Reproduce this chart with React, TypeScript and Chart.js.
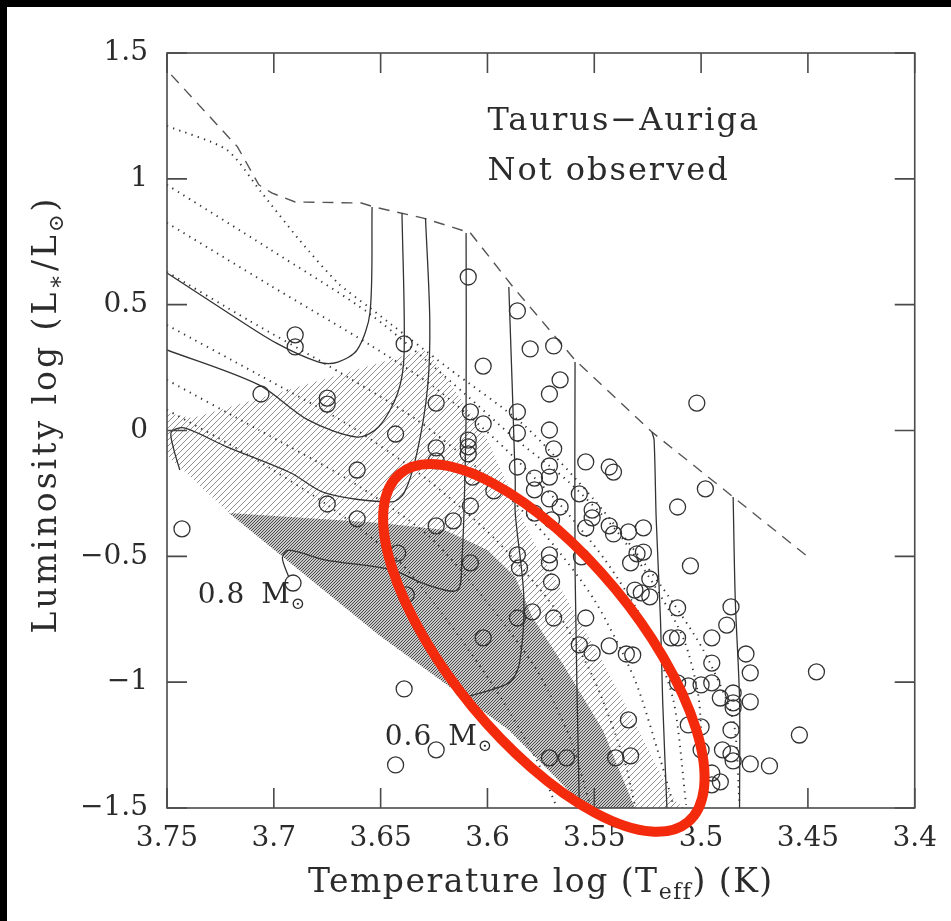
import React, { useEffect, useRef } from 'react';
import { Chart, registerables } from 'chart.js';

Chart.register(...registerables);

const FONT = '"DejaVu Serif", "Liberation Serif", serif';

type Pt = [number, number];

// ---- axis ticks ----
const xTickValues = [3.75, 3.7, 3.65, 3.6, 3.55, 3.5, 3.45, 3.4];
const xTickLabels = ['3.75', '3.7', '3.65', '3.6', '3.55', '3.5', '3.45', '3.4'];
const yTickValues = [1.5, 1, 0.5, 0, -0.5, -1, -1.5];
const yTickLabels = ['1.5', '1', '0.5', '0', '\u22120.5', '\u22121', '\u22121.5'];

// ---- birthline (dashed) ----
const birthline: Pt[] = [
  [3.748, 1.413], [3.717, 1.127], [3.707, 0.976], [3.701, 0.944], [3.69, 0.908],
  [3.659, 0.904], [3.653, 0.888], [3.63, 0.844], [3.608, 0.785], [3.588, 0.57],
  [3.559, 0.28], [3.523, -0.006], [3.485, -0.264], [3.45, -0.502],
];

// ---- evolutionary tracks (solid) ----
const track1: Pt[] = [[3.75, 0.626], [3.722, 0.471], [3.699, 0.348], [3.679, 0.272], [3.67, 0.272], [3.661, 0.32], [3.655, 0.467], [3.654, 0.888]];
const track2: Pt[] = [[3.75, 0.32], [3.707, 0.181], [3.684, 0.042], [3.661, -0.026], [3.651, 0.014], [3.642, 0.149], [3.639, 0.308], [3.64, 0.864]];
const track3: Pt[] = [[3.744, -0.157], [3.747, -0.069], [3.748, -0.006], [3.742, 0.01], [3.722, -0.065], [3.692, -0.169], [3.676, -0.248], [3.645, -0.284], [3.639, -0.248], [3.633, -0.089], [3.628, 0.173], [3.627, 0.439], [3.629, 0.844]];
const track4: Pt[] = [[3.61, 0.785], [3.61, 0.07], [3.611, -0.328], [3.612, -0.514], [3.614, -0.634], [3.628, -0.614], [3.645, -0.554], [3.676, -0.514], [3.693, -0.475], [3.696, -0.506], [3.693, -0.582]];
const track5: Pt[] = [[3.59, 0.57], [3.587, -0.196], [3.587, -0.328], [3.583, -0.661], [3.585, -0.924], [3.59, -1.003], [3.61, -1.059]];
const track6: Pt[] = [[3.559, 0.272], [3.559, -0.554], [3.557, -1.5]];
const track7: Pt[] = [[3.523, -0.006], [3.522, -0.038], [3.521, -0.355], [3.519, -0.753], [3.518, -1.071], [3.516, -1.5]];
const track8: Pt[] = [[3.485, -0.264], [3.484, -0.673], [3.482, -1.071], [3.482, -1.5]];

// ---- isochrones (dotted) ----
const iso1: Pt[] = [[3.75, 1.21], [3.722, 1.115], [3.706, 0.948], [3.688, 0.757], [3.67, 0.586], [3.655, 0.487], [3.619, 0.252], [3.583, 0.022], [3.55, -0.276], [3.519, -0.614], [3.499, -0.872], [3.485, -1.15], [3.482, -1.488]];
const iso2: Pt[] = [[3.75, 0.976], [3.702, 0.721], [3.655, 0.463], [3.611, 0.149], [3.588, -0.026], [3.562, -0.204], [3.54, -0.395], [3.522, -0.614], [3.508, -0.832], [3.501, -1.071], [3.499, -1.488]];
const iso3: Pt[] = [[3.75, 0.825], [3.702, 0.578], [3.655, 0.34], [3.625, 0.173], [3.596, -0.038], [3.568, -0.276], [3.545, -0.514], [3.526, -0.773], [3.513, -1.071], [3.507, -1.488]];
const iso4: Pt[] = [[3.75, 0.63], [3.712, 0.439], [3.675, 0.26], [3.633, 0.042], [3.601, -0.177], [3.573, -0.415], [3.55, -0.673], [3.531, -0.991], [3.519, -1.309], [3.513, -1.488]];
const iso5: Pt[] = [[3.75, 0.419], [3.707, 0.221], [3.665, 0.022], [3.628, -0.196], [3.596, -0.435], [3.568, -0.713], [3.55, -0.991], [3.536, -1.309], [3.531, -1.488]];
const iso6: Pt[] = [[3.75, 0.201], [3.707, 0.002], [3.665, -0.196], [3.628, -0.415], [3.601, -0.673], [3.577, -0.951], [3.561, -1.229], [3.552, -1.488]];
const iso7: Pt[] = [[3.75, 0.082], [3.712, -0.097], [3.675, -0.296], [3.642, -0.514], [3.619, -0.753], [3.596, -1.031], [3.577, -1.309], [3.568, -1.488]];

// ---- hatched regions ----
const lightHatchRegion: Pt[] = [
  [3.75, 0.07], [3.738, 0.05], [3.63, 0.32], [3.626, 0.292], [3.61, 0.094], [3.6, -0.038],
  [3.579, -0.435], [3.559, -0.725], [3.544, -0.951], [3.5125, -1.468], [3.508, -1.5],
  [3.554, -1.5], [3.59, -1.19], [3.651, -0.812], [3.721, -0.328], [3.75, -0.097],
];
const darkHatchRegion: Pt[] = [
  [3.721, -0.328], [3.651, -0.367], [3.62, -0.395], [3.6, -0.475], [3.587, -0.582],
  [3.579, -0.741], [3.565, -0.924], [3.546, -1.19], [3.531, -1.5], [3.554, -1.5],
  [3.59, -1.19], [3.651, -0.812],
];

// ---- observed stars (log Teff, log L) ----
const starPoints: Pt[] = [
  [3.69, 0.38], [3.69, 0.332], [3.706, 0.145], [3.743, -0.391], [3.639, 0.344], [3.675, 0.129], [3.675, 0.105],
  [3.624, 0.109], [3.643, -0.014], [3.609, 0.61], [3.586, 0.475], [3.58, 0.324], [3.569, 0.336], [3.602, 0.256],
  [3.566, 0.201], [3.571, 0.145], [3.502, 0.109], [3.586, 0.074], [3.608, 0.074], [3.602, 0.026], [3.586, -0.01],
  [3.571, 0.002], [3.609, -0.038], [3.609, -0.065], [3.609, -0.093], [3.569, -0.073], [3.624, -0.069], [3.624, -0.121],
  [3.661, -0.157], [3.586, -0.145], [3.571, -0.141], [3.554, -0.125], [3.543, -0.145], [3.541, -0.165], [3.578, -0.189],
  [3.571, -0.185], [3.607, -0.185], [3.498, -0.232], [3.511, -0.304], [3.557, -0.252], [3.578, -0.236], [3.597, -0.24],
  [3.571, -0.272], [3.566, -0.304], [3.551, -0.316], [3.551, -0.347], [3.578, -0.328], [3.608, -0.3], [3.616, -0.359],
  [3.624, -0.379], [3.554, -0.387], [3.543, -0.379], [3.541, -0.411], [3.534, -0.403], [3.527, -0.387], [3.675, -0.292],
  [3.661, -0.351], [3.586, -0.494], [3.571, -0.494], [3.571, -0.526], [3.53, -0.49], [3.527, -0.483], [3.533, -0.526],
  [3.505, -0.538], [3.585, -0.546], [3.57, -0.602], [3.556, -0.502], [3.524, -0.59], [3.531, -0.634], [3.528, -0.645],
  [3.524, -0.661], [3.511, -0.705], [3.486, -0.701], [3.488, -0.773], [3.514, -0.824], [3.511, -0.824], [3.495, -0.824],
  [3.495, -0.924], [3.479, -0.888], [3.477, -0.963], [3.446, -0.959], [3.543, -0.856], [3.535, -0.888], [3.532, -0.892],
  [3.551, -0.884], [3.557, -0.852], [3.579, -0.721], [3.586, -0.745], [3.569, -0.745], [3.554, -0.745], [3.511, -1.003],
  [3.506, -1.015], [3.5, -1.011], [3.495, -1.003], [3.491, -1.063], [3.485, -1.043], [3.485, -1.082], [3.485, -1.102],
  [3.477, -1.078], [3.486, -1.19], [3.506, -1.17], [3.5, -1.178], [3.454, -1.21], [3.534, -1.15], [3.5, -1.269],
  [3.49, -1.269], [3.486, -1.285], [3.485, -1.313], [3.477, -1.325], [3.468, -1.333], [3.54, -1.301], [3.533, -1.293],
  [3.495, -1.361], [3.491, -1.396], [3.495, -1.408], [3.571, -1.301], [3.563, -1.301], [3.624, -1.269], [3.643, -1.329],
  [3.639, -1.027], [3.602, -0.824], [3.691, -0.606], [3.638, -0.653], [3.608, -0.526], [3.642, -0.487], [3.57, -0.355],
];

// ---- text annotations (data coordinates of left baseline) ----
const regionLabels = [
  { text: 'Taurus\u2212Auriga', x: 3.6, y: 1.194 },
  { text: 'Not observed', x: 3.6, y: 0.995 },
];
const massLabels = [
  { mass: '0.8', x: 3.7356, y: -0.685 },
  { mass: '0.6', x: 3.6481, y: -1.249 },
];
const highlightEllipse = { centre: [3.5736, -0.864] as Pt, axisEnd: [3.5062, -1.556] as Pt, ratio: 0.41 };

const tracks = [track1, track2, track3, track4, track5, track6, track7, track8];
const isochrones = [iso1, iso2, iso3, iso4, iso5, iso6, iso7];

const toXY = (arr: Pt[]) => arr.map(([x, y]) => ({ x, y }));

function labelFor(values: number[], labels: string[], v: number) {
  const i = values.findIndex((t) => Math.abs(t - v) < 1e-6);
  return i >= 0 ? labels[i] : '';
}

function makeHatch(size: number, color: string, bg: string | null, lw: number) {
  const c = document.createElement('canvas');
  c.width = size;
  c.height = size;
  const g = c.getContext('2d')!;
  if (bg) {
    g.fillStyle = bg;
    g.fillRect(0, 0, size, size);
  }
  g.strokeStyle = color;
  g.lineWidth = lw;
  g.beginPath();
  g.moveTo(-1, size + 1);
  g.lineTo(size + 1, -1);
  g.moveTo(-1, 1);
  g.lineTo(1, -1);
  g.moveTo(size - 1, size + 1);
  g.lineTo(size + 1, size - 1);
  g.stroke();
  return g.createPattern(c, 'repeat')!;
}

type Seg = { text: string; size: number; dy?: number; gap?: number };

function drawRich(ctx: CanvasRenderingContext2D, segs: Seg[], x: number, y: number, align: 'left' | 'center') {
  const widths = segs.map((s) => {
    ctx.font = `${s.size}px ${FONT}`;
    return ctx.measureText(s.text).width;
  });
  const total = widths.reduce((a, w, i) => a + w + (segs[i].gap || 0), 0);
  let cx = align === 'center' ? x - total / 2 : x;
  ctx.textAlign = 'left';
  segs.forEach((s, i) => {
    ctx.font = `${s.size}px ${FONT}`;
    ctx.fillText(s.text, cx, y + (s.dy || 0));
    cx += widths[i] + (s.gap || 0);
  });
}

const decorPlugin = {
  id: 'decor',
  afterDraw(chart: any) {
    const { ctx, chartArea, scales } = chart;
    const { left, right, top, bottom } = chartArea;
    const xs = scales.x;
    const ys = scales.y;
    ctx.save();
    // frame
    ctx.strokeStyle = '#4a4a4a';
    ctx.lineWidth = 1.6;
    ctx.strokeRect(left, top, right - left, bottom - top);
    // inward ticks
    ctx.beginPath();
    xTickValues.forEach((v) => {
      const p = xs.getPixelForValue(v);
      ctx.moveTo(p, bottom);
      ctx.lineTo(p, bottom - 20);
      ctx.moveTo(p, top);
      ctx.lineTo(p, top + 20);
    });
    yTickValues.forEach((v) => {
      const p = ys.getPixelForValue(v);
      ctx.moveTo(left, p);
      ctx.lineTo(left + 20, p);
      ctx.moveTo(right, p);
      ctx.lineTo(right - 20, p);
    });
    ctx.stroke();

    ctx.fillStyle = '#2b2b2b';
    ctx.textBaseline = 'alphabetic';

    // x-axis title
    (ctx as any).letterSpacing = '1.5px';
    drawRich(
      ctx,
      [
        { text: 'Temperature log (T', size: 33 },
        { text: 'eff', size: 22, dy: 7 },
        { text: ') (K)', size: 33 },
      ],
      (left + right) / 2,
      bottom + 84,
      'center'
    );

    // y-axis title
    (ctx as any).letterSpacing = '3px';
    ctx.save();
    ctx.translate(49, (top + bottom) / 2 - 16);
    ctx.rotate(-Math.PI / 2);
    drawRich(
      ctx,
      [
        { text: 'Luminosity log (L', size: 33 },
        { text: '\u2217', size: 23, dy: 7 },
        { text: '/L', size: 33 },
        { text: '\u2299', size: 21, dy: 7 },
        { text: ')', size: 33 },
      ],
      0,
      0,
      'center'
    );
    ctx.restore();

    // region labels
    (ctx as any).letterSpacing = '2px';
    regionLabels.forEach((l) => {
      ctx.font = `32px ${FONT}`;
      ctx.textAlign = 'left';
      ctx.fillText(l.text, xs.getPixelForValue(l.x), ys.getPixelForValue(l.y));
    });

    // mass labels
    (ctx as any).letterSpacing = '1px';
    massLabels.forEach((m) => {
      drawRich(
        ctx,
        [
          { text: m.mass + ' ', size: 28, gap: 6 },
          { text: 'M', size: 28 },
          { text: '\u2299', size: 17, dy: 6 },
        ],
        xs.getPixelForValue(m.x),
        ys.getPixelForValue(m.y),
        'left'
      );
    });
    (ctx as any).letterSpacing = '0px';

    // highlight ellipse
    const cx = xs.getPixelForValue(highlightEllipse.centre[0]);
    const cy = ys.getPixelForValue(highlightEllipse.centre[1]);
    const ex = xs.getPixelForValue(highlightEllipse.axisEnd[0]);
    const ey = ys.getPixelForValue(highlightEllipse.axisEnd[1]);
    const a = Math.hypot(ex - cx, ey - cy);
    const ang = Math.atan2(ey - cy, ex - cx);
    ctx.beginPath();
    ctx.ellipse(cx, cy, a, a * highlightEllipse.ratio, ang, 0, Math.PI * 2);
    ctx.strokeStyle = '#f42a0c';
    ctx.lineWidth = 10;
    ctx.stroke();
    ctx.restore();
  },
};

export default function App() {
  const ref = useRef<HTMLCanvasElement>(null);

  useEffect(() => {
    const canvas = ref.current!;
    const lightPattern = makeHatch(6, '#8f8f8f', null, 1);
    const darkPattern = makeHatch(3, '#4a4a4a', '#c8c8c8', 1);

    const datasets: any[] = [
      {
        type: 'scatter',
        label: 'stars',
        data: toXY(starPoints),
        pointRadius: 8,
        pointStyle: 'circle',
        borderColor: '#333',
        backgroundColor: 'rgba(0,0,0,0)',
        borderWidth: 1.3,
        pointBorderWidth: 1.3,
        showLine: false,
        order: 0,
      },
      ...tracks.map((t, i) => ({
        type: 'line',
        label: 'track' + (i + 1),
        data: toXY(t),
        borderColor: '#333',
        borderWidth: 1.3,
        pointRadius: 0,
        tension: 0.3,
        fill: false,
        order: 1,
      })),
      {
        type: 'line',
        label: 'birthline',
        data: toXY(birthline),
        borderColor: '#555',
        borderWidth: 1.4,
        borderDash: [11, 8],
        pointRadius: 0,
        tension: 0,
        fill: false,
        order: 1,
      },
      ...isochrones.map((t, i) => ({
        type: 'line',
        label: 'iso' + (i + 1),
        data: toXY(t),
        borderColor: '#333',
        borderWidth: 1.9,
        borderDash: [1.3, 5.2],
        pointRadius: 0,
        tension: 0.25,
        fill: false,
        order: 2,
      })),
      {
        type: 'line',
        label: 'dark',
        data: toXY(darkHatchRegion),
        borderColor: 'rgba(0,0,0,0)',
        borderWidth: 0,
        backgroundColor: darkPattern,
        pointRadius: 0,
        tension: 0,
        fill: 'shape',
        order: 5,
      },
      {
        type: 'line',
        label: 'light',
        data: toXY(lightHatchRegion),
        borderColor: 'rgba(0,0,0,0)',
        borderWidth: 0,
        backgroundColor: lightPattern,
        pointRadius: 0,
        tension: 0,
        fill: 'shape',
        order: 6,
      },
    ];

    const chart = new Chart(canvas, {
      type: 'line',
      data: { datasets },
      plugins: [decorPlugin],
      options: {
        animation: false,
        responsive: false,
        maintainAspectRatio: false,
        devicePixelRatio: 1,
        events: [],
        layout: { padding: { top: 46, right: 28, left: 0, bottom: 0 } },
        plugins: { legend: { display: false }, tooltip: { enabled: false } },
        scales: {
          x: {
            type: 'linear',
            reverse: true,
            min: 3.4,
            max: 3.75,
            position: 'bottom',
            afterFit: (s: any) => {
              s.height = 113;
            },
            grid: { display: false, drawTicks: false },
            border: { display: false },
            ticks: {
              stepSize: 0.05,
              autoSkip: false,
              maxRotation: 0,
              padding: 14,
              color: '#2b2b2b',
              font: { family: FONT, size: 28 },
              callback: (v: any) => labelFor(xTickValues, xTickLabels, Number(v)),
            },
          },
          y: {
            type: 'linear',
            min: -1.5,
            max: 1.5,
            position: 'left',
            afterFit: (s: any) => {
              s.width = 160;
            },
            grid: { display: false, drawTicks: false },
            border: { display: false },
            ticks: {
              stepSize: 0.5,
              padding: 19,
              color: '#2b2b2b',
              font: { family: FONT, size: 28 },
              callback: (v: any) => labelFor(yTickValues, yTickLabels, Number(v)),
            },
          },
        },
      } as any,
    });
    return () => chart.destroy();
  }, []);

  return (
    <div style={{ position: 'fixed', left: 0, top: 0, width: 951, height: 921, background: '#000', overflow: 'hidden' }}>
      <div style={{ position: 'absolute', left: 7, top: 7, width: 944, height: 914, background: '#fff' }}>
        <canvas ref={ref} width={944} height={914} style={{ display: 'block', width: 944, height: 914 }} />
      </div>
    </div>
  );
}
